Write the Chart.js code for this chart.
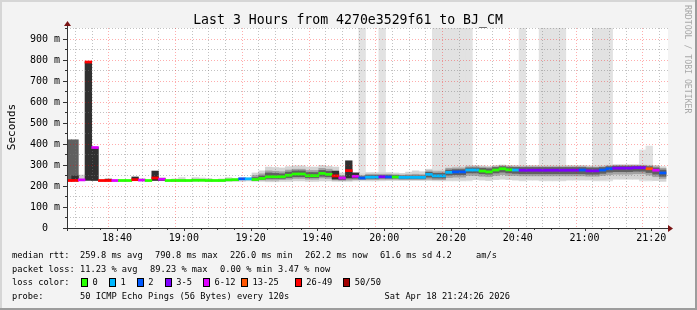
<!DOCTYPE html>
<html>
<head>
<meta charset="utf-8">
<title>SmokePing 3h</title>
<script src="https://cdn.jsdelivr.net/npm/chart.js@4.4.1/dist/chart.umd.min.js"></script>
<style>
  html, body { margin: 0; padding: 0; background: #f3f3f3; }
  canvas { display: block; }
</style>
</head>
<body>
<canvas id="smokeChart" width="697" height="310"></canvas>
<script>
// Passos de 120 s; tempo em minutos depois das 18:00
const firstStep = 25.4;
const stepMin = 2;
const _ = null;

// Mediana do RTT por passo (ms)
const medianMs = [
  226, 226, 229, 790, 383, 226, 226, 226, 226, 226,
  230, 228, 226, 238, 232, 226, 226, 226, 226, 227,
  227, 226, 226, 226, 229, 230, 234, 234, 231, 236,
  244, 244, 244, 251, 257, 257, 249, 249, 260, 255,
  248, 238, 273, 246, 238, 242, 242, 244, 243, 243,
  241, 241, 241, 241, 255, 248, 248, 265, 267, 267,
  276, 276, 271, 267, 276, 282, 277, 276, 275, 275,
  275, 275, 275, 275, 275, 275, 275, 276, 272, 272,
  276, 282, 285, 285, 285, 287, 287, 282, 275, 262
];

// Classe de perda (índice em lossLabels)
const lossIdx = [
  6, 6, 4, 6, 4, 6, 6, 4, 0, 0,
  6, 4, 0, 6, 4, 0, 0, 0, 0, 0,
  0, 0, 0, 0, 0, 0, 2, 1, 0, 0,
  0, 0, 0, 0, 0, 0, 0, 0, 0, 0,
  6, 4, 6, 4, 2, 1, 1, 3, 2, 0,
  1, 1, 1, 1, 1, 1, 1, 1, 2, 2,
  1, 1, 0, 0, 0, 0, 0, 1, 3, 3,
  3, 3, 3, 3, 3, 3, 3, 2, 3, 3,
  2, 2, 3, 3, 3, 3, 3, 5, 4, 2
];

const lossLabels = ['0', '1', '2', '3-5', '6-12', '13-25', '26-49', '50/50'];
const lossColors = ['#26ff00', '#00b8ff', '#0059ff', '#7e00ff', '#dd00ff', '#ff5500', '#ff0000', '#a10000'];

// Eixo y: linhas a cada 50 ms, rótulos a cada 100 ms
const yGridValues = [0, 50, 100, 150, 200, 250, 300, 350, 400, 450, 500, 550, 600, 650, 700, 750, 800, 850, 900, 950];
const yLabelValues = [0, 100, 200, 300, 400, 500, 600, 700, 800, 900];
const yLabelTexts = ['0  ', '100 m', '200 m', '300 m', '400 m', '500 m', '600 m', '700 m', '800 m', '900 m'];
// Eixo x: minutos depois das 18:00
const xLabelMinutes = [40, 60, 80, 100, 120, 140, 160, 180, 200];
const xLabelTexts = ['18:40', '19:00', '19:20', '19:40', '20:00', '20:20', '20:40', '21:00', '21:20'];

// Fumaça (faixas [min, max] em ms)
const smokeLight = [
  _, _, [226,252], _, _, _, _, _, _, _,
  _, [226,234], _, _, _, _, [224,234], [224,240], _, [224,240],
  [224,238], [224,236], _, [224,234], [222,240], [222,236], [222,240], [224,238], [222,262], [222,272],
  [220,290], [220,288], [222,286], [222,292], [224,296], [224,296], [222,290], [222,290], [224,298], [224,294],
  [222,290], [222,262], [222,292], [224,264], [226,258], [224,264], [224,264], [226,264], [226,264], [226,262],
  [226,260], [226,266], [226,272], [226,268], [226,280], [226,275], [226,276], [228,290], [228,292], [228,292],
  [230,298], [230,298], [228,296], [226,294], [230,298], [232,300], [230,298], [228,298], [228,298], [228,298],
  [228,298], [228,298], [228,298], [228,298], [228,298], [228,298], [228,298], [228,298], [228,296], [228,296],
  [230,298], [232,300], [232,302], [232,302], [232,302], [232,302], [232,302], [230,300], [226,298], [222,292]
];

const smokeMid = [
  _, _, _, _, _, _, _, _, _, _,
  _, _, _, _, _, _, _, _, _, [225,232],
  _, _, _, _, _, _, _, _, [226,250], [228,258],
  [228,272], [228,270], [230,268], [232,276], [236,280], [236,280], [232,274], [232,274], [238,284], [236,280],
  [228,262], [226,250], [228,270], [230,256], [230,250], [230,256], [230,256], [232,256], [232,256], [232,254],
  [230,252], [230,254], [230,256], [230,254], [232,272], [230,268], [230,268], [240,284], [242,286], [242,286],
  [250,292], [250,292], [246,290], [244,288], [250,292], [254,296], [250,294], [250,292], [248,292], [248,292],
  [248,292], [248,292], [248,292], [248,292], [248,292], [248,292], [248,292], [248,292], [246,290], [246,290],
  [250,292], [254,296], [256,298], [256,298], [256,298], [258,298], [258,298], [252,296], [244,292], [236,284]
];

const smokeDark = [
  [226,420], [226,420], _, _, _, _, _, _, _, _,
  _, _, _, _, _, _, _, _, _, _,
  _, _, _, _, _, _, _, _, [228,240], [232,248],
  [236,262], [236,260], [236,258], [240,266], [244,272], [244,272], [240,264], [240,264], [246,274], [244,270],
  _, [230,244], _, _, [234,244], [236,250], [236,250], [238,250], [238,250], [238,250],
  [236,248], [236,248], [236,248], [236,248], [242,265], [238,260], [238,260], [252,276], [254,278], [254,278],
  [262,286], [262,286], [258,284], [256,282], [262,288], [266,292], [262,288], [260,288], [258,288], [258,288],
  [258,288], [258,288], [258,288], [258,288], [258,288], [258,288], [258,288], [258,288], [256,286], [256,286],
  [260,288], [266,292], [268,294], [268,294], [268,294], [270,294], [270,294], [264,292], [256,286], [246,276]
];

// Passos com pings muito espalhados (barras escuras)
const spikes = [
  _, [226,248], _, [226,790], [226,383], _, [226,233], _, _, _,
  [226,243], _, _, [226,271], [226,237], _, _, _, _, _,
  _, _, _, _, _, _, _, _, _, _,
  _, _, _, _, _, _, _, _, _, _,
  [233,271], _, [238,320], [238,262], _, _, _, _, _, _,
  _, _, _, _, _, _, _, _, _, _,
  _, _, _, _, _, _, _, _, _, _,
  _, _, _, _, _, _, _, _, _, _,
  _, _, _, _, _, _, _, _, _, _
];

// Passos com pings perdidos (faixa cinza até o topo)
const lostBars = [
  _, _, _, _, _, _, _, _, _, _,
  _, _, _, _, _, _, _, _, _, _,
  _, _, _, _, _, _, _, _, _, _,
  _, _, _, _, _, _, _, _, _, _,
  _, _, _, _, [224,1000], _, _, [224,1000], _, _,
  _, _, _, _, _, [224,1000], [224,1000], [224,1000], [224,1000], [224,1000],
  [224,1000], _, _, _, _, _, _, _, [224,1000], _,
  _, [224,1000], [224,1000], [224,1000], [224,1000], _, _, _, _, [224,1000],
  [224,1000], [224,1000], _, _, _, _, [224,371], [224,390], _, _
];

const statLines = [
  [[12, 'median rtt:'], [80, '259.8 ms avg'], [155, '790.8 ms max'], [230, '226.0 ms min'],
   [305, '262.2 ms now'], [380, '61.6 ms sd'], [436, '4.2'], [476, 'am/s']],
  [[12, 'packet loss:'], [80, '11.23 % avg'], [150, '89.23 % max'], [220, '0.00 % min'], [278, '3.47 % now']]
];
const probeText = '50 ICMP Echo Pings (56 Bytes) every 120s';
const stampText = 'Sat Apr 18 21:24:26 2026';
const titleText = 'Last 3 Hours from 4270e3529f61 to BJ_CM';

const stepTimes = medianMs.map((_v, i) => firstStep + i * stepMin);
const toPoints = arr => arr.map((v, i) => ({ x: stepTimes[i], y: v }));

const mono = '"DejaVu Sans Mono", monospace';
const legendFont = '8.7px ' + mono;
const majorGrid = 'rgba(255, 0, 0, 0.32)';
const minorGrid = 'rgba(120, 120, 120, 0.45)';

function barSet(label, points, color, order) {
  return {
    label: label,
    data: points,
    backgroundColor: color,
    borderWidth: 0,
    grouped: false,
    barPercentage: 1,
    categoryPercentage: 1,
    order: order
  };
}

function xLabelFor(value) {
  const i = xLabelMinutes.indexOf(Math.round(value));
  return i < 0 ? '' : xLabelTexts[i];
}

// Moldura, eixos e textos no estilo do rrdtool
const rrdFrame = {
  id: 'rrdFrame',
  beforeDraw(chart) {
    const ctx = chart.ctx, a = chart.chartArea;
    const w = chart.width, h = chart.height;
    ctx.save();
    ctx.fillStyle = '#f3f3f3';
    ctx.fillRect(0, 0, w, h);
    ctx.fillStyle = '#d6d6d6';
    ctx.fillRect(0, 0, w, 2);
    ctx.fillRect(0, 0, 2, h);
    ctx.fillStyle = '#9c9c9c';
    ctx.fillRect(0, h - 2, w, 2);
    ctx.fillRect(w - 2, 0, 2, h);
    ctx.fillStyle = '#ffffff';
    ctx.fillRect(a.left, a.top, a.right - a.left, a.bottom - a.top);
    ctx.restore();
  },
  afterDatasetsDraw(chart) {
    // linhas horizontais da grade por cima dos dados, como no rrdtool
    const ctx = chart.ctx, a = chart.chartArea, ys = chart.scales.y;
    ctx.save();
    ctx.lineWidth = 1;
    ctx.setLineDash([1, 2]);
    yGridValues.forEach(v => {
      const py = Math.round(ys.getPixelForValue(v)) + 0.5;
      ctx.strokeStyle = yLabelValues.indexOf(v) >= 0 ? majorGrid : minorGrid;
      ctx.beginPath();
      ctx.moveTo(a.left, py);
      ctx.lineTo(a.right, py);
      ctx.stroke();
    });
    ctx.restore();
  },
  afterDraw(chart) {
    const ctx = chart.ctx, a = chart.chartArea;
    const xs = chart.scales.x, ys = chart.scales.y;
    ctx.save();

    // marcas dos eixos
    ctx.strokeStyle = '#333';
    ctx.lineWidth = 1;
    ctx.beginPath();
    yGridValues.forEach(v => {
      const py = Math.round(ys.getPixelForValue(v)) + 0.5;
      const len = yLabelValues.indexOf(v) >= 0 ? 4 : 2;
      ctx.moveTo(a.left - len, py);
      ctx.lineTo(a.left, py);
    });
    xs.ticks.forEach(t => {
      const px = Math.round(xs.getPixelForValue(t.value)) + 0.5;
      const len = Math.round(t.value) % 20 === 0 ? 3 : 2;
      ctx.moveTo(px, a.bottom);
      ctx.lineTo(px, a.bottom + len);
    });
    ctx.stroke();

    // rótulos do eixo y
    ctx.fillStyle = '#000';
    ctx.font = '10px ' + mono;
    ctx.textAlign = 'right';
    ctx.textBaseline = 'middle';
    yLabelValues.forEach((v, i) => {
      ctx.fillText(yLabelTexts[i], a.left - 7, Math.round(ys.getPixelForValue(v)) + 0.5);
    });

    // linhas dos eixos
    ctx.beginPath();
    ctx.moveTo(a.left + 0.5, a.bottom + 3);
    ctx.lineTo(a.left + 0.5, a.top - 3);
    ctx.moveTo(a.left - 4, a.bottom + 0.5);
    ctx.lineTo(a.right, a.bottom + 0.5);
    ctx.stroke();

    // setas
    ctx.fillStyle = '#7a1414';
    ctx.beginPath();
    ctx.moveTo(a.left + 0.5, a.top - 7);
    ctx.lineTo(a.left - 3, a.top - 2);
    ctx.lineTo(a.left + 4, a.top - 2);
    ctx.closePath();
    ctx.fill();
    ctx.beginPath();
    ctx.moveTo(a.right + 5, a.bottom + 0.5);
    ctx.lineTo(a.right, a.bottom - 3);
    ctx.lineTo(a.right, a.bottom + 4);
    ctx.closePath();
    ctx.fill();

    // título
    ctx.fillStyle = '#000';
    ctx.font = '13.2px ' + mono;
    ctx.textAlign = 'center';
    ctx.textBaseline = 'alphabetic';
    ctx.fillText(titleText, 348, 24);

    // rótulo do eixo y
    ctx.save();
    ctx.translate(15, 127);
    ctx.rotate(-Math.PI / 2);
    ctx.font = '11px ' + mono;
    ctx.fillText('Seconds', 0, 0);
    ctx.restore();

    // assinatura lateral
    ctx.save();
    ctx.translate(685, 5);
    ctx.rotate(Math.PI / 2);
    ctx.font = '8.2px ' + mono;
    ctx.textAlign = 'left';
    ctx.fillStyle = '#a8a8a8';
    ctx.fillText('RRDTOOL / TOBI OETIKER', 0, 0);
    ctx.restore();

    // legenda de estatísticas
    ctx.font = legendFont;
    ctx.textAlign = 'left';
    ctx.fillStyle = '#000';
    const baselines = [258, 271.5, 285, 298.5];
    statLines.forEach((line, i) => {
      line.forEach(([px, txt]) => ctx.fillText(txt, px, baselines[i]));
    });

    ctx.fillText('loss color:', 12, baselines[2]);
    const swatchX = [81, 109, 136.7, 164.7, 203, 241, 294.7, 343.3];
    lossLabels.forEach((lbl, i) => {
      const sx = Math.round(swatchX[i]);
      ctx.fillStyle = lossColors[i];
      ctx.fillRect(sx, 278, 6, 8);
      ctx.strokeStyle = '#000';
      ctx.strokeRect(sx + 0.5, 278.5, 6, 8);
      ctx.fillStyle = '#000';
      ctx.fillText(lbl, swatchX[i] + 11.5, baselines[2]);
    });

    ctx.fillText('probe:', 12, baselines[3]);
    ctx.fillText(probeText, 80, baselines[3]);
    ctx.textAlign = 'right';
    ctx.fillText(stampText, 510, baselines[3]);

    ctx.restore();
  }
};

const medianPoints = medianMs.map((m, i) => ({ x: stepTimes[i], y: [m - 5, m + 5] }));

new Chart(document.getElementById('smokeChart'), {
  type: 'bar',
  data: {
    datasets: [
      barSet('median', medianPoints, lossIdx.map(i => lossColors[i]), 0),
      barSet('spikes', toPoints(spikes), '#303030', 1),
      barSet('smoke dark', toPoints(smokeDark), '#606060', 2),
      barSet('smoke mid', toPoints(smokeMid), '#a2a2a2', 3),
      barSet('smoke light', toPoints(smokeLight), '#d4d4d4', 4),
      barSet('lost', toPoints(lostBars), '#e2e2e2', 5)
    ]
  },
  options: {
    responsive: false,
    animation: false,
    events: [],
    layout: { padding: { left: 0, top: 28, right: 29, bottom: 60 } },
    plugins: {
      legend: { display: false },
      tooltip: { enabled: false },
      title: { display: false }
    },
    scales: {
      x: {
        type: 'linear',
        min: 25,
        max: 205,
        offset: false,
        afterFit: s => { s.height = 22; },
        afterTickToLabelConversion: s => {
          s.ticks.forEach(t => { t.label = xLabelFor(t.value); });
        },
        ticks: {
          stepSize: 5,
          autoSkip: false,
          maxRotation: 0,
          includeBounds: false,
          padding: 4,
          color: '#000',
          font: { family: mono, size: 10 }
        },
        grid: {
          z: 1,
          drawTicks: false,
          lineWidth: 1,
          color: c => (c.tick && Math.round(c.tick.value) % 20 === 0) ? majorGrid : minorGrid
        },
        border: { display: false, dash: [1, 2] }
      },
      y: {
        min: 0,
        max: 952,
        afterFit: s => { s.width = 67; },
        ticks: { display: false },
        grid: { display: false },
        border: { display: false }
      }
    }
  },
  plugins: [rrdFrame]
});
</script>
</body>
</html>
